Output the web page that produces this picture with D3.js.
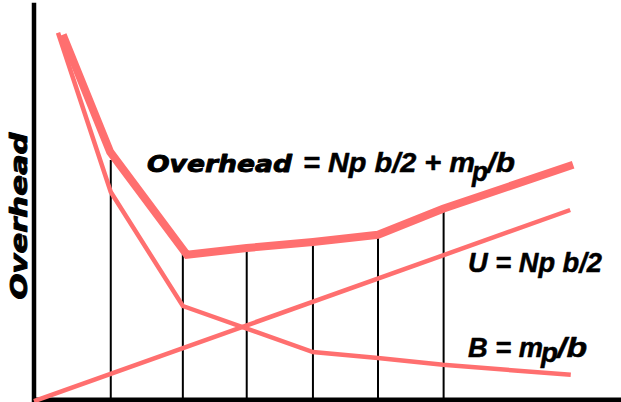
<!DOCTYPE html>
<html>
<head>
<meta charset="utf-8">
<script src="https://cdn.jsdelivr.net/npm/d3@7"></script>
<style>
  html, body { margin: 0; padding: 0; background: #fff; }
  svg { display: block; }
</style>
</head>
<body>
<svg id="chart" width="621" height="402"></svg>
<script>
// ---- data (abstract units: x = batch size b, y = overhead) ----
const overheadX = [0.49, 1.30, 2.61, 3.63, 4.76, 5.87, 6.98, 9.20];
const overheadY = [9.13, 6.20, 3.63, 3.80, 3.95, 4.13, 4.78, 5.88];

const bufferX = [0.41, 1.31, 2.54, 4.76, 5.87, 6.98, 9.16];
const bufferY = [9.18, 5.20, 2.35, 1.20, 1.05, 0.88, 0.63];

const unbufX = [0.0, 9.15];
const unbufY = [-0.03, 4.75];

const barX   = [1.31, 2.54, 3.63, 4.76, 5.87, 6.99];
const barTop = [6.00, 3.75, 3.88, 3.98, 4.08, 4.70];

const yLabel = "Overhead";
const titleWord = "Overhead";
const titleRest = "= Np b/2 + m";
const uLabel = "U = Np b/2";
const bLabel = "B = m";
const subP = "p";
const overB = "/b";

// ---- scales ----
const x = d3.scaleLinear().domain([0, 10]).range([34, 620]);
const y = d3.scaleLinear().domain([0, 10]).range([400, 0]);

const svg = d3.select("#chart");
const salmon = "#ff6f6f";

const line = d3.line().x(d => x(d[0])).y(d => y(d[1]));

// vertical batch lines
svg.append("g").selectAll("line")
  .data(barX.map((v, i) => [v, barTop[i]]))
  .join("line")
  .attr("x1", d => x(d[0])).attr("x2", d => x(d[0]))
  .attr("y1", y(0)).attr("y2", d => y(d[1]))
  .attr("stroke", "#000").attr("stroke-width", 2);

// axes
svg.append("line")
  .attr("x1", x(0)).attr("x2", x(0))
  .attr("y1", y(0) + 2).attr("y2", y(9.93))
  .attr("stroke", "#000").attr("stroke-width", 4.5);
svg.append("line")
  .attr("x1", x(0) - 2).attr("x2", 621)
  .attr("y1", y(0)).attr("y2", y(0))
  .attr("stroke", "#000").attr("stroke-width", 5);

// series lines
svg.append("path")
  .datum(unbufX.map((v, i) => [v, unbufY[i]]))
  .attr("d", line).attr("fill", "none")
  .attr("stroke", salmon).attr("stroke-width", 4.5);

svg.append("path")
  .datum(bufferX.map((v, i) => [v, bufferY[i]]))
  .attr("d", line).attr("fill", "none")
  .attr("stroke", salmon).attr("stroke-width", 4.5);

svg.append("path")
  .datum(overheadX.map((v, i) => [v, overheadY[i]]))
  .attr("d", line).attr("fill", "none")
  .attr("stroke", salmon).attr("stroke-width", 8);

// ---- text ----
const wide = "'DejaVu Sans', sans-serif";
const ari = "'Liberation Sans', Arial, sans-serif";

function txt(s, px, py, fam, size, len, sw) {
  const t = svg.append("text")
    .attr("x", px).attr("y", py)
    .attr("font-family", fam).attr("font-size", size)
    .attr("font-weight", "bold").attr("font-style", "italic")
    .attr("fill", "#000")
    .attr("stroke", "#000").attr("stroke-width", sw)
    .attr("stroke-linejoin", "round")
    .text(s);
  if (len) t.attr("textLength", len).attr("lengthAdjust", "spacingAndGlyphs");
  return t;
}

// title
txt(titleWord, 147, 172, wide, 23, 145, 0.9);
txt(titleRest, 303, 172, ari, 27, 172, 0.5);
txt(subP, 472, 181, ari, 27, 16, 0.5);
txt(overB, 487, 172, ari, 27, 28, 0.5);

// U label
txt(uLabel, 468, 272, ari, 27, 134, 0.5);

// B label
txt(bLabel, 468, 357, ari, 27, 75, 0.5);
txt(subP, 541, 362, ari, 27, 17, 0.5);
txt(overB, 557, 357, ari, 27, 30, 0.5);

// y label
svg.append("text")
  .attr("transform", "translate(27,216) rotate(-90)")
  .attr("text-anchor", "middle")
  .attr("font-family", wide).attr("font-size", 23)
  .attr("font-weight", "bold").attr("font-style", "italic")
  .attr("fill", "#000").attr("stroke", "#000").attr("stroke-width", 0.9)
  .attr("stroke-linejoin", "round")
  .attr("textLength", 167).attr("lengthAdjust", "spacingAndGlyphs")
  .text(yLabel);
</script>
</body>
</html>
